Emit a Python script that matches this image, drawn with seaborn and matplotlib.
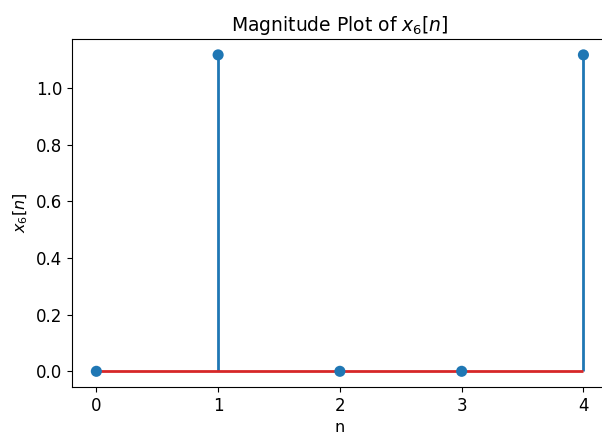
import numpy as np
import pandas as pd
import seaborn as sns
import matplotlib.pyplot as plt

# samples of x6[n]
n = [0, 1, 2, 3, 4]
magnitude = [0.0, 1.118, 0.0, 0.0, 1.118]

df = pd.DataFrame({'n': n, 'mag': magnitude})

fig = plt.figure(figsize=(6.02, 4.34), dpi=100)
ax = fig.add_axes([0.1196, 0.108, 0.89, 0.802])

ax.vlines(df['n'], 0, df['mag'], color='C0', linewidth=2)
ax.hlines(0, df['n'].min(), df['n'].max(), color='C3', linewidth=2)
sns.scatterplot(x='n', y='mag', data=df, color='C0', s=64, edgecolor='none', zorder=3, ax=ax)

ax.set_xticks(n)
ax.tick_params(labelsize=12)
ax.set_title('Magnitude Plot of $x_6[n]$', fontsize=13.5)
ax.set_xlabel('n', fontsize=11.5)
ax.set_ylabel('$x_6[n]$', fontsize=11.5)

plt.savefig('out.png', dpi=100)
plt.close()
